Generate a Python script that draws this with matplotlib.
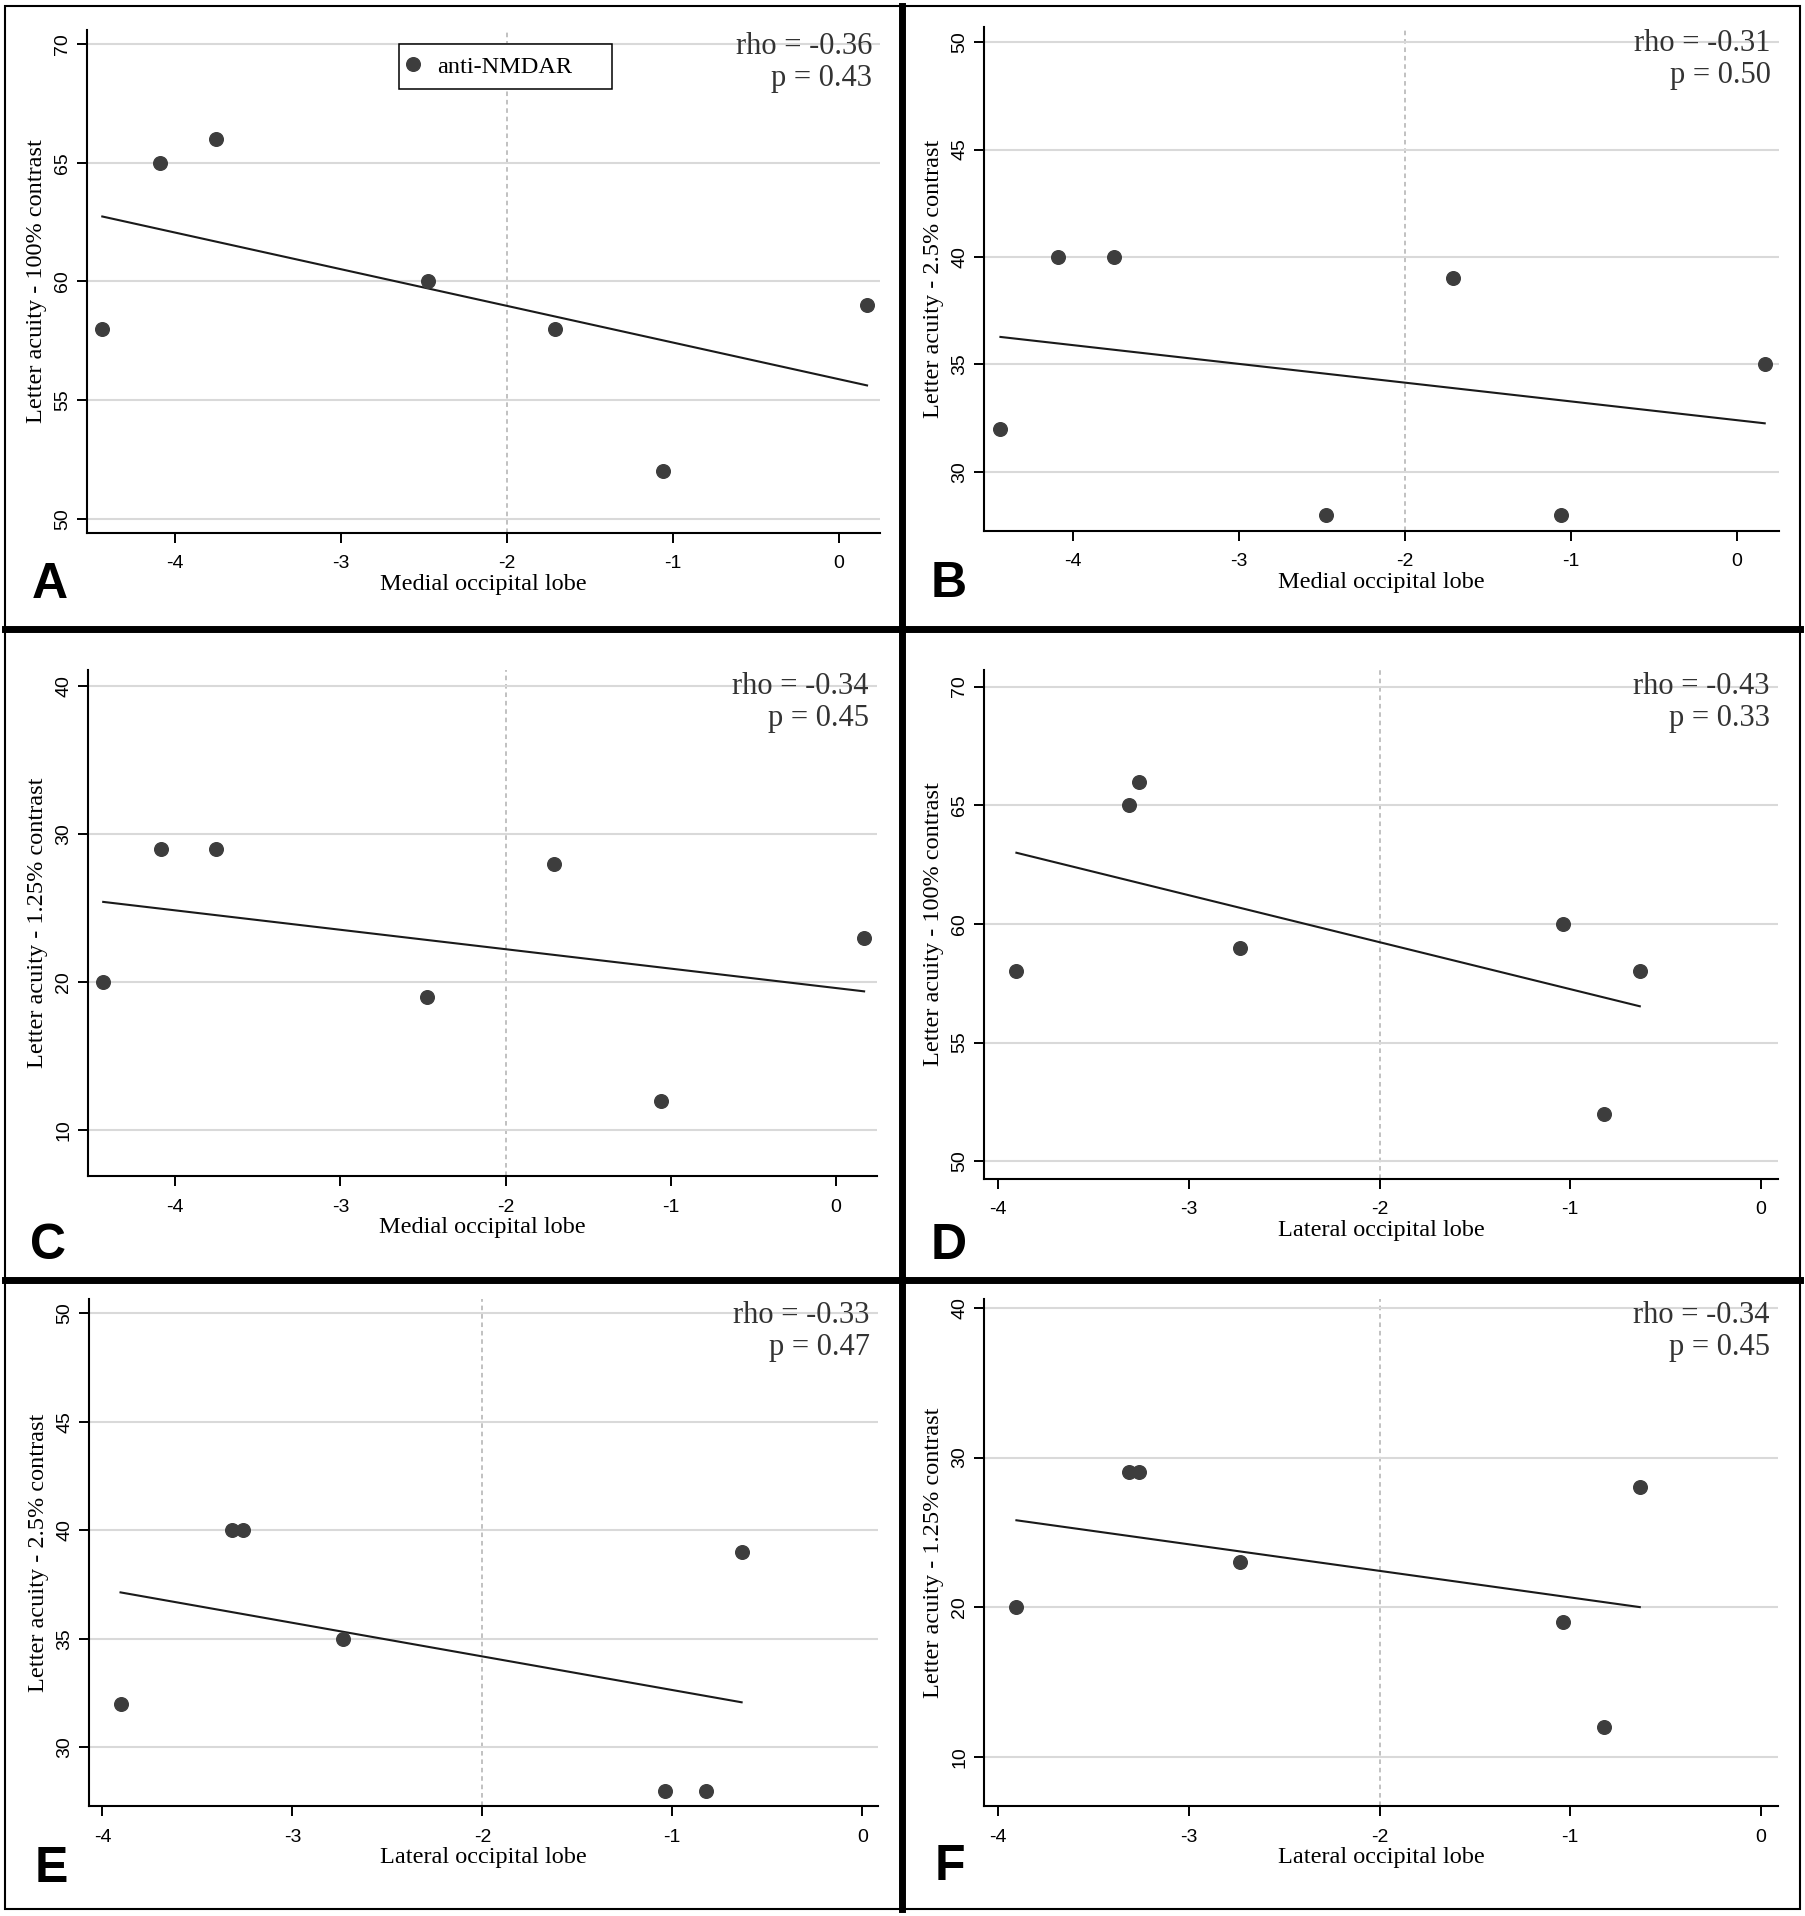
import numpy as np
import matplotlib.pyplot as plt
from matplotlib.patches import Rectangle
from matplotlib.lines import Line2D

plt.rcParams['axes.unicode_minus'] = False

W, H = 1806, 1916

# one entry per patient (anti-NMDAR)
medial = [-4.435, -4.088, -3.75, -2.475, -1.709, -1.061, 0.169]
lateral = [-3.905, -3.317, -3.261, -1.040, -0.635, -0.823, -2.734]
acuity_100 = [58, 65, 66, 60, 58, 52, 59]
acuity_25 = [32, 40, 40, 28, 39, 28, 35]
acuity_125 = [20, 29, 29, 19, 28, 12, 23]

rho_vals = ['-0.36', '-0.31', '-0.34', '-0.43', '-0.33', '-0.34']
p_vals = ['0.43', '0.50', '0.45', '0.33', '0.47', '0.45']
letters = ['A', 'B', 'C', 'D', 'E', 'F']
x_ticks = [-4, -3, -2, -1, 0]

SERIF = 'Liberation Serif'
SANS = 'Liberation Sans'

# (x data, y data, xlabel, ylabel, yticks, xlim, ylim, axes box px, letter pos px)
panels = [
    (medial, acuity_100, 'Medial occipital lobe', 'Letter acuity - 100% contrast',
     [50, 55, 60, 65, 70], (-4.527, 0.247), (49.4, 70.6), (87, 30, 880, 533), (32, 598)),
    (medial, acuity_25, 'Medial occipital lobe', 'Letter acuity - 2.5% contrast',
     [30, 35, 40, 45, 50], (-4.534, 0.255), (27.25, 50.7), (984, 27, 1779, 531), (931, 597)),
    (medial, acuity_125, 'Medial occipital lobe', 'Letter acuity - 1.25% contrast',
     [10, 20, 30, 40], (-4.527, 0.247), (6.9, 41.1), (88, 670, 877, 1176), (30, 1259)),
    (lateral, acuity_100, 'Lateral occipital lobe', 'Letter acuity - 100% contrast',
     [50, 55, 60, 65, 70], (-4.075, 0.09), (49.25, 70.7), (984, 670, 1778, 1179), (931, 1259)),
    (lateral, acuity_25, 'Lateral occipital lobe', 'Letter acuity - 2.5% contrast',
     [30, 35, 40, 45, 50], (-4.071, 0.083), (27.3, 50.66), (89, 1299, 878, 1806), (35, 1882)),
    (lateral, acuity_125, 'Lateral occipital lobe', 'Letter acuity - 1.25% contrast',
     [10, 20, 30, 40], (-4.075, 0.09), (6.7, 40.6), (984, 1299, 1778, 1806), (935, 1880)),
]

fig = plt.figure(figsize=(W / 100, H / 100), dpi=100)

for i, (x, y, xlab, ylab, yt, xl, yl, box, lpos) in enumerate(panels):
    l, t, r, b = box
    ax = fig.add_axes([l / W, 1 - b / H, (r - l) / W, (b - t) / H])
    axw, axh = r - l, b - t

    ax.plot(x, y, 'o', ms=9.8, color='#3d3d3d', label='anti-NMDAR', zorder=4)
    coef = np.polyfit(x, y, 1)
    xs = np.array([min(x), max(x)])
    ax.plot(xs, np.polyval(coef, xs), color='#1a1a1a', lw=1.5, zorder=3)
    ax.axvline(-2, color='#b0b0b0', lw=1.1, ls=(0, (3, 2.5)), zorder=1)

    ax.set_xlim(*xl)
    ax.set_ylim(*yl)
    ax.set_xticks(x_ticks)
    ax.set_yticks(yt)
    ax.grid(axis='y', color='#d9d9d9', lw=1.5, zorder=0)
    ax.grid(axis='x', visible=False)
    for s in ['top', 'right']:
        ax.spines[s].set_visible(False)
    for s in ['left', 'bottom']:
        ax.spines[s].set_linewidth(1.5)
    ax.tick_params(direction='out', length=7.2, width=1.4, labelsize=14)
    ax.tick_params(axis='x', pad=9)
    ax.tick_params(axis='y', pad=4)
    for lab in ax.get_xticklabels() + ax.get_yticklabels():
        lab.set_family(SANS)
    for lab in ax.get_yticklabels():
        lab.set_rotation(90)
        lab.set_va('center')

    ax.set_xlabel(xlab, family=SERIF, fontsize=17.5)
    ax.set_ylabel(ylab, family=SERIF, fontsize=17.5)
    ax.xaxis.set_label_coords(0.5, -41 / axh)
    ax.yaxis.set_label_coords(-40 / axw, 0.5)

    ax.annotate('rho = ' + rho_vals[i], xy=(1, 1), xycoords='axes fraction',
                xytext=(-8, -24), textcoords='offset pixels', ha='right',
                va='baseline', family=SERIF, fontsize=22, color='#333333')
    ax.annotate('p = ' + p_vals[i], xy=(1, 1), xycoords='axes fraction',
                xytext=(-8, -56), textcoords='offset pixels', ha='right',
                va='baseline', family=SERIF, fontsize=22, color='#333333')

    if i == 0:
        ax.add_patch(Rectangle((0.3934, 0.883), 0.662 - 0.3934, 0.972 - 0.883,
                               transform=ax.transAxes, facecolor='white',
                               edgecolor='black', lw=1.1, zorder=5))
        leg = ax.legend(frameon=False, loc='center left', bbox_to_anchor=(0.399, 0.927),
                        handlelength=0.8, handletextpad=0.6, borderpad=0,
                        borderaxespad=0, prop={'family': SERIF, 'size': 17.5})
        leg.set_zorder(6)

    fig.text(lpos[0] / W, 1 - lpos[1] / H, letters[i], family=SANS, fontsize=36,
             fontweight='bold', ha='left', va='baseline')

# panel frame and separators
fig.add_artist(Rectangle((5 / W, 1 - 1909 / H), 1795 / W, 1903 / H,
                         transform=fig.transFigure, fill=False, lw=1.5, ec='black'))
fig.add_artist(Line2D([902 / W, 902 / W], [1 - 1909 / H, 1 - 6 / H],
                      transform=fig.transFigure, color='black', lw=5))
for yy in [629.5, 1279.5]:
    fig.add_artist(Line2D([5 / W, 1800 / W], [1 - yy / H, 1 - yy / H],
                          transform=fig.transFigure, color='black', lw=5))

fig.savefig('out.png', dpi=100)
